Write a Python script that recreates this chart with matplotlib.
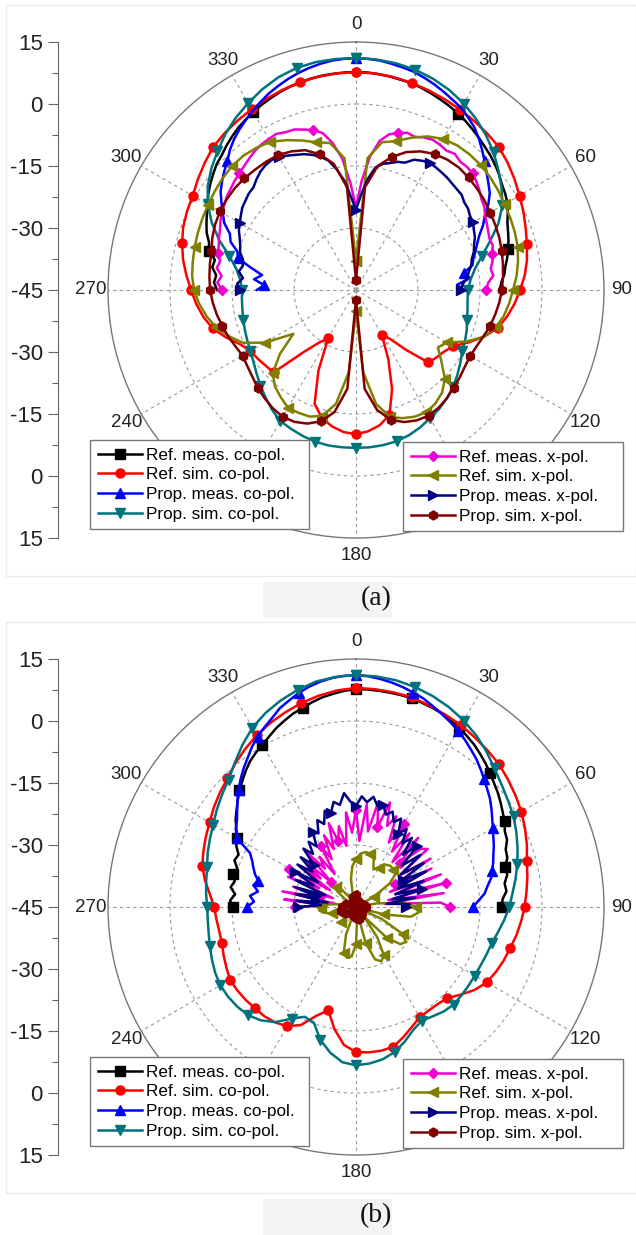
import numpy as np
import matplotlib.pyplot as plt
from matplotlib.patches import Rectangle

plt.rcParams['font.family'] = ['Liberation Sans', 'DejaVu Sans']

# angle grids (deg): simulations every 5 deg over the full turn,
# measurements every 3 deg from 270 through 0 to 90
sim_deg = np.arange(0, 360, 5)
meas_deg = np.arange(-90, 91, 3)

labels = ['Ref. meas. co-pol.', 'Ref. sim. co-pol.', 'Prop. meas. co-pol.', 'Prop. sim. co-pol.',
          'Ref. meas. x-pol.', 'Ref. sim. x-pol.', 'Prop. meas. x-pol.', 'Prop. sim. x-pol.']
colors = ['#000000', '#ff0000', '#0000ff', '#00737c', '#f000d0', '#808000', '#000080', '#800000']
markers = ['s', 'o', '^', 'v', 'D', '<', '>', 'h']
angle_labels = ['0', '30', '60', '90', '120', '', '180', '', '240', '270', '300', '330']

# ---------------- panel (a) ----------------
a_ref_meas_co = [-11.4, -10.6, -11.0, -9.8, -10.1, -8.2, -7.6, -6.3, -5.4, -4.5,
                 -3.5, -2.4, -1.4, -0.5, 0.4, 1.0, 1.9, 2.7, 3.5, 4.1,
                 4.7, 5.3, 5.8, 6.3, 6.7, 7.0, 7.3, 7.5, 7.6, 7.7,
                 7.7, 7.7, 7.5, 7.3, 7.0, 6.8, 6.4, 5.9, 5.4, 4.9,
                 4.3, 3.7, 3.0, 2.3, 1.6, 1.0, 0.3, -0.5, -1.4, -2.0,
                 -2.7, -3.8, -4.9, -5.6, -6.2, -7.0, -7.6, -8.4, -8.9, -9.8, -10.2]
a_ref_sim_co = [7.7, 7.6, 7.3, 6.9, 6.4, 5.9, 5.4, 4.9, 4.4, 3.9, 2.9, 1.8,
                0.7, -0.3, -1.3, -2.2, -3.0, -4.0, -5.3, -6.5, -7.9, -9.5, -12.0, -15.0,
                -17.8, -19.0, -19.6, -20.2, -26.0, -30.5, -32.5, -26.5, -19.5, -13.7, -11.8, -10.7,
                -10.1, -10.5, -11.5, -13.0, -15.7, -23.5, -31.5, -29.5, -25.5, -16.8, -16.5, -16.0,
                -15.5, -14.0, -11.5, -9.1, -7.5, -6.2, -5.1, -3.8, -2.5, -1.45, -0.5, 0.1,
                0.6, 1.7, 2.8, 3.9, 4.5, 5.0, 5.5, 6.1, 6.6, 7.1, 7.4, 7.6]
a_prop_meas_co = [-21.0, -22.8, -20.2, -22.0, -19.0, -15.5, -14.8, -12.5, -11.6, -9.2,
                  -7.8, -6.2, -4.5, -3.3, -2.1, -1.0, 0.6, 1.9, 3.0, 4.0,
                  5.0, 6.0, 7.0, 7.8, 8.6, 9.3, 9.9, 10.4, 10.8, 11.0,
                  11.1, 11.0, 10.8, 10.4, 10.0, 9.6, 8.9, 8.2, 7.4, 6.6,
                  5.9, 4.8, 3.7, 2.2, 0.6, -1.0, -2.5, -3.8, -5.0, -6.8,
                  -9.0, -10.5, -12.3, -13.6, -14.6, -15.6, -16.2, -18.6, -17.2, -20.5, -19.0]
a_prop_sim_co = [11.1, 11.0, 10.7, 10.2, 9.4, 8.4, 7.1, 5.6, 3.9, 2.1, 0.0, -2.0,
                 -4.1, -7.0, -10.5, -13.5, -15.8, -17.2, -17.9, -17.9, -17.6, -17.2, -16.5, -15.9,
                 -15.3, -14.2, -13.0, -11.8, -10.8, -9.9, -9.2, -8.3, -7.6, -7.1, -6.9, -6.8,
                 -6.8, -6.8, -6.8, -7.0, -7.4, -7.9, -8.4, -9.6, -11.0, -12.3, -13.6, -14.7,
                 -15.5, -16.0, -16.4, -16.8, -17.1, -17.3, -17.4, -16.9, -15.6, -13.3, -9.8, -6.5,
                 -3.6, -1.2, 0.7, 2.4, 4.2, 5.8, 7.2, 8.6, 9.8, 10.6, 11.0, 11.1]
a_ref_meas_x = [-12.6, -11.4, -12.3, -10.9, -11.4, -10.4, -10.1, -9.5, -9.0, -8.2,
                -7.6, -7.0, -6.4, -6.0, -5.5, -5.1, -4.6, -4.0, -3.4, -3.0,
                -2.8, -2.6, -3.2, -3.4, -4.2, -4.9, -6.2, -9.0, -13.0, -19.0,
                -25.0, -18.5, -12.5, -8.5, -6.5, -5.7, -5.0, -5.3, -4.6, -4.2,
                -4.4, -4.8, -4.3, -5.0, -4.9, -5.1, -5.8, -6.6, -7.5, -8.0,
                -8.9, -9.5, -10.0, -10.4, -10.2, -10.9, -11.2, -12.0, -11.6, -13.0, -13.5]
a_ref_sim_x = [-38.0, -13.0, -8.7, -7.7, -5.8, -4.0, -2.8, -2.3, -2.2, -2.3, -2.6, -3.0,
               -3.5, -3.8, -4.1, -4.5, -5.2, -6.0, -7.0, -7.8, -8.7, -10.0, -12.0, -15.5,
               -19.6, -20.8, -18.0, -14.6, -12.6, -11.5, -10.9, -11.2, -12.0, -13.2, -17.0, -25.0,
               -40.0, -25.0, -17.0, -13.5, -12.4, -12.2, -12.1, -13.3, -14.5, -16.5, -21.0, -26.5,
               -19.5, -14.8, -12.3, -10.0, -8.3, -6.9, -5.8, -5.2, -4.9, -4.6, -4.3, -4.0,
               -3.7, -3.3, -2.9, -2.6, -2.6, -3.0, -3.6, -5.0, -6.5, -8.0, -8.9, -13.0]
a_prop_meas_x = [-17.0, -16.2, -17.5, -16.3, -17.0, -16.7, -15.5, -15.0, -14.2, -13.2,
                 -12.5, -11.8, -11.0, -10.6, -10.1, -9.9, -9.0, -8.2, -7.7, -7.5,
                 -7.8, -8.5, -9.2, -9.8, -10.6, -11.6, -13.0, -15.5, -18.5, -22.5,
                 -25.6, -22.0, -18.0, -15.0, -13.8, -13.2, -12.4, -12.0, -10.5, -9.9,
                 -9.4, -9.6, -9.8, -10.0, -10.3, -10.5, -10.6, -11.3, -11.5, -12.1,
                 -12.3, -13.0, -13.5, -14.4, -15.0, -16.0, -16.5, -17.4, -18.0, -19.2, -19.5]
a_prop_sim_x = [-42.6, -20.0, -14.5, -11.7, -9.5, -8.0, -7.0, -6.5, -6.3, -6.5, -6.8, -7.1,
                -7.5, -7.8, -8.1, -8.5, -8.9, -9.3, -9.7, -10.2, -10.8, -11.4, -12.2, -12.8,
                -13.1, -12.8, -12.2, -11.6, -10.8, -10.2, -9.9, -10.2, -11.0, -12.5, -15.5, -21.0,
                -42.6, -21.0, -15.0, -12.1, -10.6, -9.8, -9.6, -10.0, -10.7, -11.4, -12.3, -12.9,
                -13.3, -12.8, -12.1, -11.5, -10.8, -10.2, -9.7, -9.4, -9.1, -8.8, -8.0, -7.4,
                -7.0, -6.8, -6.7, -6.8, -7.0, -7.1, -7.3, -8.0, -9.0, -11.0, -14.0, -20.0]

# ---------------- panel (b) ----------------
b_ref_meas_co = [-15.2, -14.5, -15.6, -14.3, -15.0, -14.1, -14.8, -13.5, -13.9, -12.5,
                 -11.7, -10.5, -9.0, -7.8, -6.5, -5.1, -3.9, -2.6, -1.4, -0.5,
                 0.3, 1.3, 2.4, 3.3, 4.2, 4.9, 5.7, 6.4, 6.9, 7.4,
                 7.7, 7.7, 7.6, 7.5, 7.4, 7.3, 6.9, 6.6, 6.2, 5.6,
                 5.0, 4.3, 3.6, 2.7, 1.8, 0.85, -0.1, -0.9, -1.8, -2.7,
                 -3.5, -4.6, -5.0, -6.2, -6.5, -7.7, -7.6, -8.6, -8.4, -9.5, -9.7]
b_ref_sim_co = [8.0, 7.9, 7.7, 7.5, 6.9, 6.3, 5.8, 5.1, 4.5, 3.9, 3.0, 2.1,
                1.2, 0.1, -1.0, -2.2, -2.9, -3.6, -4.2, -4.9, -5.6, -6.4, -7.0, -7.7,
                -8.5, -10.0, -12.0, -13.8, -14.3, -14.4, -14.2, -13.0, -11.5, -10.0, -9.7, -9.7,
                -9.9, -11.5, -15.0, -19.1, -17.0, -13.5, -11.7, -10.9, -10.5, -10.4, -10.1, -9.9,
                -9.8, -10.4, -10.9, -11.4, -11.4, -11.1, -10.7, -9.5, -7.9, -6.5, -5.7, -4.9,
                -4.1, -3.0, -2.0, -1.0, 0.4, 1.7, 3.0, 4.1, 5.1, 6.1, 6.9, 7.6]
b_prop_meas_co = [-18.6, -20.3, -19.2, -21.0, -19.6, -20.5, -19.3, -18.4, -17.5, -16.2,
                  -11.8, -10.3, -9.4, -8.0, -6.4, -4.8, -3.3, -1.8, -0.4, 1.2,
                  2.6, 3.8, 5.0, 6.5, 7.5, 8.6, 9.5, 10.2, 10.7, 11.0,
                  11.1, 10.9, 10.5, 10.0, 9.4, 8.7, 8.0, 7.0, 6.1, 5.2,
                  4.3, 3.3, 2.2, 1.2, 0.0, -1.2, -2.3, -3.3, -4.5, -5.7,
                  -6.8, -7.7, -8.5, -9.4, -10.1, -10.9, -11.6, -12.8, -13.7, -15.3, -16.7]
b_prop_sim_co = [11.1, 11.0, 10.7, 10.1, 9.3, 8.3, 7.1, 5.7, 4.1, 2.4, 1.0, -0.1,
                 -1.0, -2.2, -3.4, -4.6, -5.8, -7.0, -7.9, -9.0, -10.1, -11.0, -11.4, -11.7,
                 -11.8, -11.8, -11.7, -11.6, -12.0, -12.7, -13.2, -12.2, -10.4, -8.7, -7.6, -7.0,
                 -6.7, -7.3, -9.2, -11.7, -15.2, -15.7, -13.8, -11.0, -9.2, -8.0, -7.5, -7.2,
                 -7.1, -7.4, -7.9, -8.4, -8.8, -9.0, -9.0, -8.6, -8.2, -7.7, -6.8, -6.0,
                 -5.1, -3.9, -2.7, -1.4, 0.6, 2.9, 5.1, 6.8, 8.2, 9.4, 10.4, 10.9]
b_ref_meas_x = [-30.2, -38.0, -27.5, -40.0, -26.8, -36.0, -29.0, -39.0, -27.0, -35.0,
                -26.4, -37.5, -28.5, -34.0, -29.0, -36.5, -27.5, -33.0, -30.0, -35.5,
                -28.0, -32.0, -26.0, -30.0, -23.7, -28.5, -25.0, -30.0, -22.0, -27.0,
                -21.5, -29.0, -20.0, -26.5, -19.0, -25.0, -18.4, -24.0, -21.0, -27.5,
                -21.9, -29.0, -23.0, -31.0, -22.5, -30.0, -24.0, -22.7, -32.0, -23.5,
                -34.0, -24.5, -36.0, -23.0, -35.0, -22.5, -37.0, -23.5, -38.0, -24.5, -22.3]
b_ref_sim_x = [-33.5, -32.0, -31.5, -31.6, -32.5, -35.0, -34.0, -32.5, -32.0, -32.2, -32.5, -35.0,
               -40.0, -45.0, -45.0, -45.0, -40.0, -33.0, -30.5, -29.8, -31.5, -38.0, -45.0, -38.0,
               -32.0, -30.3, -31.0, -34.5, -42.0, -36.0, -31.5, -30.5, -31.5, -36.0, -45.0, -42.0,
               -36.0, -33.0, -32.5, -33.5, -38.0, -45.0, -45.0, -45.0, -42.0, -40.0, -42.0, -45.0,
               -45.0, -45.0, -43.0, -39.0, -37.0, -36.0, -36.5, -38.0, -41.0, -45.0, -45.0, -45.0,
               -45.0, -42.0, -39.0, -38.0, -39.0, -42.0, -45.0, -45.0, -45.0, -42.0, -38.0, -35.0]
b_prop_meas_x = [-31.0, -36.5, -30.5, -38.0, -30.0, -35.0, -29.5, -37.0, -29.0, -33.5,
                 -28.0, -34.0, -27.5, -31.5, -27.0, -30.5, -26.0, -28.5, -25.5, -27.5,
                 -24.0, -25.0, -22.0, -23.5, -20.5, -21.5, -19.0, -20.0, -17.3, -19.5,
                 -20.5, -18.2, -19.5, -18.0, -20.0, -19.5, -21.5, -20.3, -22.5, -21.0,
                 -24.5, -22.5, -26.0, -23.5, -28.0, -24.0, -30.0, -25.0, -31.5, -25.5,
                 -32.0, -26.0, -34.0, -27.5, -35.0, -28.5, -36.0, -30.5, -37.5, -32.0, -33.0]
b_prop_sim_x = [-42.0, -42.5, -43.0, -43.5, -43.8, -44.0, -44.0, -43.8, -43.6, -43.5, -43.8, -44.2,
                -44.5, -44.0, -43.5, -43.0, -42.8, -42.6, -42.5, -42.8, -43.2, -43.5, -43.8, -44.0,
                -44.0, -43.6, -43.3, -43.0, -42.8, -42.6, -42.5, -42.3, -42.1, -42.0, -42.1, -42.2,
                -42.3, -42.5, -42.6, -42.8, -43.0, -43.3, -43.5, -43.3, -43.1, -43.0, -42.6, -42.3,
                -42.0, -41.6, -41.3, -41.2, -41.2, -41.3, -41.5, -41.8, -42.2, -42.5, -42.9, -43.2,
                -43.5, -43.8, -44.0, -44.0, -43.8, -43.6, -43.5, -43.1, -42.8, -42.5, -42.3, -42.1]

panel_a = [a_ref_meas_co, a_ref_sim_co, a_prop_meas_co, a_prop_sim_co,
           a_ref_meas_x, a_ref_sim_x, a_prop_meas_x, a_prop_sim_x]
panel_b = [b_ref_meas_co, b_ref_sim_co, b_prop_meas_co, b_prop_sim_co,
           b_ref_meas_x, b_ref_sim_x, b_prop_meas_x, b_prop_sim_x]
is_meas = [True, False, True, False, True, False, True, False]

marks_a = [[5, 20, 40, 55], 3, [1, 5, 15, 30, 45, 57], 3,
           [0, 5, 15, 25, 35, 45, 55, 60], 3, 10, 3]
marks_b = [5, 3, 5, 3, 5, 3, 5, 3]

W, H = 636, 1235
R = 248
CX = 356
fig = plt.figure(figsize=(W / 100, H / 100), dpi=100)


def fig_rect(x0, y0, x1, y1, **kw):
    fig.add_artist(Rectangle((x0 / W, 1 - y1 / H), (x1 - x0) / W, (y1 - y0) / H,
                             transform=fig.transFigure, zorder=-5, **kw))


def draw_panel(cy, data, marks, tag, top, bottom):
    fig_rect(6, top, 636, bottom, fc='white', ec='#ececec', lw=1)
    fig_rect(263, bottom + 6, 392, bottom + 42, fc='#f3f3f3', ec='none')
    fig.text(376 / W, 1 - (bottom + 23) / H, tag, ha='center', va='center',
             fontsize=20, family='Liberation Serif', color='#111111')

    ax = fig.add_axes([(CX - R) / W, 1 - (cy + R) / H, 2 * R / W, 2 * R / H],
                      projection='polar')
    ax.set_theta_zero_location('N')
    ax.set_theta_direction(-1)
    ax.set_rlim(-45, 15)
    ax.set_rticks([-30, -15, 0])
    ax.set_yticklabels([])
    ax.set_xticks(np.deg2rad(np.arange(0, 360, 30)))
    ax.set_xticklabels(angle_labels)
    ax.set_xticks(np.deg2rad(np.arange(15, 360, 30)), minor=True)
    ax.grid(True, ls=(0, (3, 3)), color='#9a9a9a', lw=0.8)
    ax.spines['polar'].set_color('#777777')
    ax.spines['polar'].set_linewidth(1.0)
    ax.tick_params(axis='x', which='major', pad=5.5, labelsize=13.5,
                   labelcolor='#222222', length=0)
    ax.tick_params(axis='x', which='minor', length=5, direction='in', color='#777777')

    lines = []
    for v, meas, c, m, mk, lab in zip(data, is_meas, colors, markers, marks, labels):
        if meas:
            th = np.deg2rad(meas_deg)
            r = np.array(v)
        else:
            th = np.deg2rad(np.append(sim_deg, 360))
            r = np.append(v, v[0])
        ms = 5.5 if m == 'D' else 6.5
        ln, = ax.plot(th, r, color=c, lw=1.8, marker=m, ms=ms, markevery=mk,
                      label=lab, clip_on=False)
        lines.append(ln)

    # linear scale on the left, mirrored through the centre
    lax = fig.add_axes([58 / W, 1 - (cy + R) / H, 0.0005, 2 * R / H])
    lax.patch.set_alpha(0)
    lax.set_ylim(-60, 60)
    for s in ['top', 'right', 'bottom']:
        lax.spines[s].set_visible(False)
    lax.spines['left'].set_color('#666666')
    lax.set_xticks([])
    ticks = np.arange(-60, 61, 15)
    lax.set_yticks(ticks)
    lax.set_yticklabels([str(int(-45 + abs(t))) for t in ticks])
    lax.set_yticks(np.arange(-52.5, 60, 15), minor=True)
    lax.tick_params(axis='y', which='major', length=7, width=0.8, color='#666666',
                    labelsize=16, pad=4, labelcolor='#222222')
    lax.tick_params(axis='y', which='minor', length=4, width=0.8, color='#666666')

    leg_kw = dict(loc='upper left', bbox_transform=fig.transFigure, frameon=True,
                  fancybox=False, framealpha=1, edgecolor='#777777', fontsize=12.3,
                  handlelength=2.6, handletextpad=0.25, labelspacing=0.27,
                  borderpad=0.45, borderaxespad=0, mode='expand')
    l1 = fig.legend(lines[:4], labels[:4],
                    bbox_to_anchor=(90 / W, 1 - (cy + 150) / H, 219 / W, 0), **leg_kw)
    l2 = fig.legend(lines[4:], labels[4:],
                    bbox_to_anchor=(403 / W, 1 - (cy + 152) / H, 220 / W, 0), **leg_kw)
    for lg in (l1, l2):
        lg.get_frame().set_linewidth(1.0)


draw_panel(290, panel_a, marks_a, '(a)', 5, 576)
draw_panel(907, panel_b, marks_b, '(b)', 622, 1193)

fig.savefig('out.png', dpi=100)
